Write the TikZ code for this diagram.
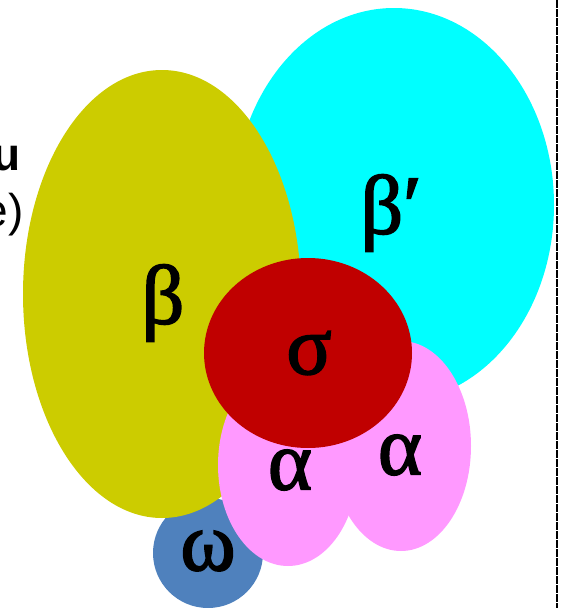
\documentclass[tikz,border=0pt]{standalone}
\usepackage{fontspec}
\setmainfont{Liberation Serif}
\newfontfamily\labelsans{Liberation Sans}
\newfontfamily\greekfont[FakeBold=2]{Liberation Serif}
\usetikzlibrary{shapes.geometric}
\definecolor{cyanbeta}{RGB}{0,255,255}
\definecolor{olivebeta}{RGB}{204,204,0}
\definecolor{redsigma}{RGB}{192,0,0}
\definecolor{pinkalpha}{RGB}{255,153,255}
\definecolor{blueomega}{RGB}{79,129,189}
\tikzset{blob/.style={ellipse,inner sep=0pt},
  greek/.style={font=\greekfont\fontsize{84}{84}\selectfont,inner sep=0pt}}
\begin{document}
\begin{tikzpicture}[x=1pt,y=-1pt]
\useasboundingbox (0,0) rectangle (563,608);
\node[blob,fill=cyanbeta,minimum width=320pt,minimum height=394pt] (BP) at (394,205) {};
\node[greek] (BPl) at (391,213) {β′};
\node[blob,fill=blueomega,minimum width=110pt,minimum height=110pt] (W) at (208,553) {};
\node[greek] (Wl) at (208,551) {ω};
\node[blob,fill=olivebeta,minimum width=278pt,minimum height=448pt] (B) at (162,294) {};
\node[greek] (Bl) at (163,303) {β};
\node[blob,fill=pinkalpha,minimum width=140pt,minimum height=210pt] (A2) at (401,446) {};
\node[blob,fill=pinkalpha,minimum width=140pt,minimum height=202pt] (A1) at (288,465) {};
\node[greek] (A2l) at (400,455) {α};
\node[greek] (A1l) at (290,470) {α};
\node[blob,fill=redsigma,minimum width=208pt,minimum height=190pt] (S) at (308,353) {};
\node[greek] (Sl) at (309,353) {σ};
\node[anchor=base east,inner sep=0pt,font=\labelsans\fontsize{46}{46}\selectfont\bfseries] (u) at (21,170) {u};
\node[anchor=base east,inner sep=0pt,font=\labelsans\fontsize{46}{46}\selectfont] (e) at (24,226) {e)};
\coordinate (top) at (557,0);
\coordinate (bot) at (557,608);
\draw[line width=2.5pt,dash pattern=on 8pt off 1pt] (top) -- (bot);
\end{tikzpicture}
\end{document}
